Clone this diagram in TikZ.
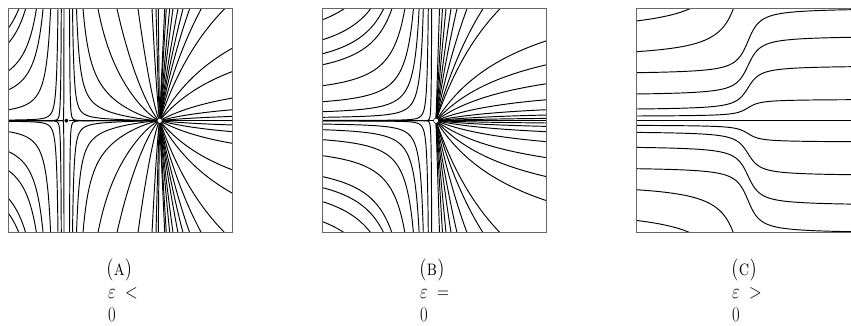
\documentclass[tikz,border=0pt]{standalone}
\usepackage{graphicx}
\begin{document}
\begin{tikzpicture}[x=1pt,y=-1pt,
  curve/.style={line width=0.95pt, black},
  frame/.style={draw=black!60, line width=1pt},
  capt/.style={anchor=base west, inner sep=0pt, font=\fontsize{22}{26}\selectfont}]
\useasboundingbox (0,0) rectangle (851,326);

% ---------------- Panel A ----------------
\begin{scope}
\clip (8.7,8.7) rectangle (232.7,232.7);
\draw[curve] (8.7,120.7) -- (232.7,120.7);
% left of saddle
\foreach \uo/\Yo in {8.7/93, 8.7/78, 8.7/50, 8.7/31, 8.7/11, 58/112, 61.3/112, 64/112}{
  \pgfmathsetmacro\lnC{ln(\Yo)-50/(66.3-\uo)}
  \foreach \sg in {1,-1}{
    \draw[curve] plot[variable=\t, domain=0:0.97, samples=150]
      ({66.3-58.6*(1-\t)^2},{120.7-(\sg)*exp(max(min(\lnC+50/(58.6*(1-\t)^2),5.3),-9))});
  }
}
% between saddle and node
\foreach \uo/\Yo in {69.5/112, 72.5/112, 76.5/112, 83/112, 98/112, 117/112, 138/112, 152/112, 156/112, 158.3/112}{
  \pgfmathsetmacro\lnC{ln(\Yo)-25/(\uo-66.3)-1.3*ln(159.7-\uo)}
  \foreach \sg in {1,-1}{
    \draw[curve] plot[variable=\t, domain=0.03:0.97, samples=150]
      ({66.3+93.4*(3*\t^2-2*\t^3)},{120.7-(\sg)*exp(max(min(\lnC+25/(93.4*(3*\t^2-2*\t^3))+1.3*ln(93.4*(1-3*\t^2+2*\t^3)),5.3),-9))});
  }
}
% right of node
\foreach \uo/\Yo in {232.7/4.3, 232.7/11, 232.7/22.7, 232.7/49.3, 232.7/72.7, 224.7/112, 201.3/112, 189.7/112, 183/112, 178/112, 173/112, 169.7/112, 166.3/112, 164.7/112}{
  \pgfmathsetmacro\lnC{ln(\Yo)-ln(\uo-159.7)+ln(\uo-66.3)}
  \foreach \sg in {1,-1}{
    \draw[curve] plot[variable=\t, domain=0.02:1, samples=150]
      ({159.7+74*\t^2},{120.7-(\sg)*exp(max(min(\lnC+ln(74*\t^2)-ln(93.4+74*\t^2),5.3),-9))});
  }
}
\end{scope}
\draw[frame] (8.7,8.7) rectangle (232.7,232.7);
\filldraw[fill=black, draw=white, line width=0.6pt] (66.3,120.7) circle (2.3);
\filldraw[fill=white, draw=black, line width=0.5pt] (159.7,120.7) circle (2.6);

% ---------------- Panel B ----------------
\begin{scope}
\clip (322.7,8.7) rectangle (546.7,232.7);
\draw[curve] (322.7,120.7) -- (546.7,120.7);
\foreach \uo/\Yo in {322.7/101, 322.7/81, 322.7/67, 322.7/56, 322.7/35, 322.7/19, 322.7/9, 423.3/112, 428.3/112, 431.7/112}{
  \pgfmathsetmacro\lnC{ln(\Yo)-50/(436-\uo)}
  \foreach \sg in {1,-1}{
    \draw[curve] plot[variable=\t, domain=0:0.97, samples=150]
      ({436-114.3*(1-\t)^2},{120.7-(\sg)*exp(max(min(\lnC+50/(114.3*(1-\t)^2),5.3),-9))});
  }
}
\foreach \uo/\Yo in {546.7/2.3, 546.7/5.7, 546.7/11, 546.7/21, 546.7/37, 546.7/56, 546.7/80, 500/112, 483/112, 467/112, 457/112, 451/112, 446/112, 442.5/112, 439.5/112}{
  \pgfmathsetmacro\lnC{ln(\Yo)-ln(\uo-436)+ln(\uo-342)}
  \foreach \sg in {1,-1}{
    \draw[curve] plot[variable=\t, domain=0.02:1, samples=150]
      ({436+111.7*\t^2},{120.7-(\sg)*exp(max(min(\lnC+ln(111.7*\t^2)-ln(94+111.7*\t^2),5.3),-9))});
  }
}
\end{scope}
\draw[frame] (322.7,8.7) rectangle (546.7,232.7);
\filldraw[fill=white, draw=black, line width=0.5pt] (436,120.7) circle (2.6);

% ---------------- Panel C ----------------
\begin{scope}
\clip (636,8.7) rectangle (860,232.7);
\draw[curve] (636,120.7) -- (860,120.7);
\pgfmathsetmacro\sL{0.5+atan((636-748)/9)/180}
\foreach \YL/\uR/\YR in {99.7/690/112, 69/733.3/112, 48/851/111, 26.7/851/83.4, 11.7/851/54, 4.7/851/21}{
  \pgfmathsetmacro\sR{0.5+atan((\uR-748)/9)/180}
  \foreach \sg in {1,-1}{
    \draw[curve] plot[variable=\u, domain=636:860, samples=200]
      ({\u},{120.7-(\sg)*(\YL+(\YR-\YL)*((0.5+atan((\u-748)/9)/180)-\sL)/(\sR-\sL))});
  }
}
\end{scope}
\draw[frame] (636,8.7) rectangle (860,232.7);

% ---------------- Captions ----------------
\node[capt] (la) at (106,275) {\scalebox{0.8}[1]{\textsc{(a)}}};
\node[capt] (ea) at (108,298) {\scalebox{0.8}[1]{$\varepsilon\;<$}};
\node[capt] (za) at (108,321) {\scalebox{0.8}[1]{$0$}};
\node[capt] (lb) at (419,275) {\scalebox{0.8}[1]{\textsc{(b)}}};
\node[capt] (eb) at (420,298) {\scalebox{0.8}[1]{$\varepsilon\;=$}};
\node[capt] (zb) at (420,321) {\scalebox{0.8}[1]{$0$}};
\node[capt] (lc) at (731,275) {\scalebox{0.8}[1]{\textsc{(c)}}};
\node[capt] (ec) at (732,298) {\scalebox{0.8}[1]{$\varepsilon\;>$}};
\node[capt] (zc) at (732,321) {\scalebox{0.8}[1]{$0$}};
\end{tikzpicture}
\end{document}
